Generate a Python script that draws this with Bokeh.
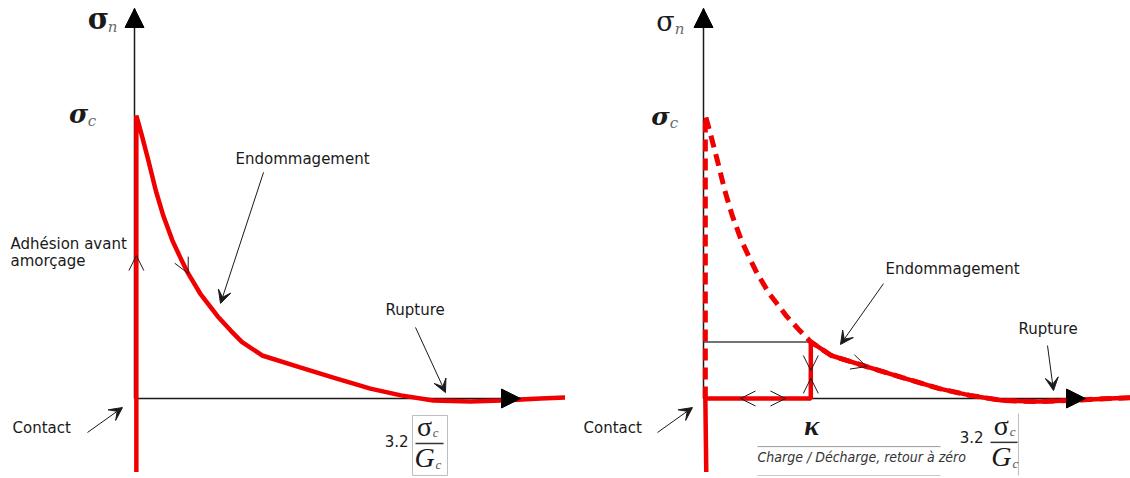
from bokeh.plotting import figure
from bokeh.layouts import row
from bokeh.models import Range1d, Arrow, NormalHead, VeeHead, OpenHead, Label
from bokeh.embed import file_html
from bokeh.resources import INLINE

# Cohesive traction-separation law: opening delta (in sigma_c/G_c units)
# and normal traction sigma / sigma_c along the virgin envelope.
delta = [0.02, 0.08, 0.15, 0.23, 0.31, 0.41, 0.50, 0.58, 0.71, 0.90, 1.04, 1.16,
         1.38, 1.79, 2.15, 2.55, 2.88, 3.23, 3.63, 3.96, 4.39, 4.71]
sigma = [1.000, 0.929, 0.841, 0.735, 0.647, 0.558, 0.495, 0.442, 0.371, 0.290, 0.240, 0.200,
         0.152, 0.110, 0.074, 0.035, 0.011, -0.007, -0.011, -0.007, 0.000, 0.004]

kappa = 1.16            # largest opening reached before unloading
sigma_kappa = 0.200     # envelope traction at kappa
contact_floor = -0.26   # extent of the compressive (contact) branch
rupture_tick = "3.2"

RED = "#f00000"
INK = "#1a1a1a"
GREY = "#9a9a9a"
SANS = "DejaVu Sans"
SERIF = "DejaVu Serif"
TIMES = "Liberation Serif"
NARROW = "'DejaVu Sans Condensed', 'Liberation Sans Narrow', 'Liberation Sans'"

W, H = 565, 478
PX_X, PX_Y = 92.5, 283.0   # screen pixels per unit of opening / traction
ORIGIN_Y = 398


def panel(origin_x):
    p = figure(width=W, height=H, output_backend="svg", toolbar_location=None,
               x_range=Range1d(-origin_x / PX_X, (W - origin_x) / PX_X),
               y_range=Range1d(-(H - ORIGIN_Y) / PX_Y, ORIGIN_Y / PX_Y),
               x_axis_location=None, y_axis_location=None, min_border=0)
    p.grid.visible = False
    p.outline_line_color = None
    p.background_fill_color = "white"
    p.border_fill_color = "white"
    return p


def label(p, x, y, text, size, font=SANS, style="normal", color=INK, align="left"):
    # lift the text so that y marks the glyph baseline
    p.add_layout(Label(x=x, y=y, text=text, text_font=font, text_font_size=f"{size}px",
                       text_font_style=style, text_color=color, text_align=align,
                       text_baseline="alphabetic", y_offset=0.3 * size + 1.5))


def pointer(p, x0, y0, x1, y1):
    p.add_layout(Arrow(x_start=x0, y_start=y0, x_end=x1, y_end=y1, line_color=INK, line_width=1,
                       end=VeeHead(size=13, fill_color=INK, line_color=INK, line_width=1)))


def chevron(p, x0, y0, x1, y1):
    p.add_layout(Arrow(x_start=x0, y_start=y0, x_end=x1, y_end=y1, line_alpha=0,
                       end=OpenHead(size=15, line_color=INK, line_width=1)))


def axes(p, x_tip, y_tip):
    p.line([0, 0], [0, y_tip], line_color=INK, line_width=1.5)
    p.line([0, x_tip], [0, 0], line_color=INK, line_width=1.5)


def axis_heads(p, x_tip, y_tip):
    for xs, ys, xe, ye in [(0, y_tip - 0.1, 0, y_tip), (x_tip - 0.2, 0, x_tip, 0)]:
        p.add_layout(Arrow(x_start=xs, y_start=ys, x_end=xe, y_end=ye, line_alpha=0,
                           end=NormalHead(size=19, fill_color="black", line_color="black",
                                          line_width=1)))


def sigma_label(p, x, y, sub, style, size):
    label(p, x, y, "σ", size, font=SERIF, style=style, align="center")
    label(p, x + 0.1, y - 0.014, sub, 15, font=SERIF, style="italic", color="#6a6a6a")


def fraction(p, xc, y_bar, x_bar0, x_bar1):
    label(p, xc, y_bar + 0.024, "σ", 28, font=TIMES, align="center")
    label(p, xc + 0.09, y_bar + 0.020, "c", 13, font=TIMES, style="italic", color="#555555")
    p.line([x_bar0, x_bar1], [y_bar, y_bar], line_color="#333333", line_width=1.5)
    label(p, xc, y_bar - 0.085, "G", 28, font=TIMES, style="italic", align="center")
    label(p, xc + 0.12, y_bar - 0.092, "c", 13, font=TIMES, style="italic", color="#555555")


# ---------------- left: monotonic loading ----------------
left = panel(134)
axes(left, 4.173, 1.378)
left.line([delta[0]] + delta, [contact_floor] + sigma, line_color=RED, line_width=4.5,
          line_join="bevel")
axis_heads(left, 4.173, 1.378)

sigma_label(left, -0.389, 1.305, "n", "bold", 29)
sigma_label(left, -0.605, 0.972, "c", "bold italic", 26)
label(left, 1.092, 0.825, "Endommagement", 15)
label(left, -1.341, 0.523, "Adhésion avant", 15)
label(left, -1.341, 0.463, "amorçage", 15)
label(left, 2.714, 0.293, "Rupture", 15)
label(left, -1.319, -0.124, "Contact", 15)
label(left, 2.962, -0.173, rupture_tick, 15, align="right")
left.quad(left=3.005, right=3.384, top=-0.060, bottom=-0.272, fill_color=None,
          line_color="#bdbdbd", line_width=1)
fraction(left, 3.135, -0.159, 3.038, 3.341)

pointer(left, 1.395, 0.799, 0.93, 0.336)
pointer(left, 3.038, 0.251, 3.362, 0.021)
pointer(left, -0.508, -0.120, -0.130, -0.032)
chevron(left, 0.02, 0.45, 0.02, 0.505)
chevron(left, delta[6], sigma[6], delta[7], sigma[7])

# ---------------- right: unloading / reloading at kappa ----------------
right = panel(138)
axes(right, 4.13, 1.378)
right.line([0, kappa], [sigma_kappa, sigma_kappa], line_color="#444444", line_width=1.5)
right.line([delta[0]] + delta, [0] + sigma, line_color=RED, line_width=5, line_dash="12 7")
right.line([delta[0], delta[0] + 0.01], [0, contact_floor], line_color=RED, line_width=4.5)
right.line([0, kappa, kappa], [0, 0, sigma_kappa], line_color=RED, line_width=4.5)
k = delta.index(kappa)
right.line(delta[k:], sigma[k:], line_color=RED, line_width=4.5)
axis_heads(right, 4.13, 1.378)

sigma_label(right, -0.411, 1.300, "n", "normal", 27)
sigma_label(right, -0.465, 0.965, "c", "bold italic", 25)
label(right, 1.968, 0.438, "Endommagement", 15)
label(right, 3.405, 0.223, "Rupture", 15)
label(right, -1.297, -0.124, "Contact", 15)
label(right, kappa + 0.01, -0.131, "κ", 28, font=TIMES, style="bold italic", align="center")
label(right, 0.584, -0.226, "Charge / Décharge, retour à zéro", 14,
      font=NARROW, style="italic", color="#333333")
right.line([0.584, 2.562], [-0.170, -0.170], line_color=GREY, line_width=1)
right.line([0.584, 2.562], [-0.272, -0.272], line_color="#c8c8c8", line_width=1)
label(right, 3.027, -0.159, rupture_tick, 15, align="right")
fraction(right, 3.22, -0.155, 3.103, 3.395)
right.line([3.405, 3.405], [-0.053, -0.272], line_color="#bdbdbd", line_width=1)

pointer(right, 1.946, 0.406, 1.481, 0.191)
pointer(right, 3.719, 0.187, 3.784, 0.028)
pointer(right, -0.497, -0.120, -0.119, -0.032)
chevron(right, 0.5, 0, 0.40, 0)
chevron(right, 0.8, 0, 0.886, 0)
chevron(right, kappa, 0.14, kappa, 0.099)
chevron(right, kappa, 0.03, kappa, 0.071)
chevron(right, 1.6, 0.13, 1.762, 0.113)

layout = row(left, right, spacing=0)
open("out.html", "w").write(file_html(layout, INLINE))
